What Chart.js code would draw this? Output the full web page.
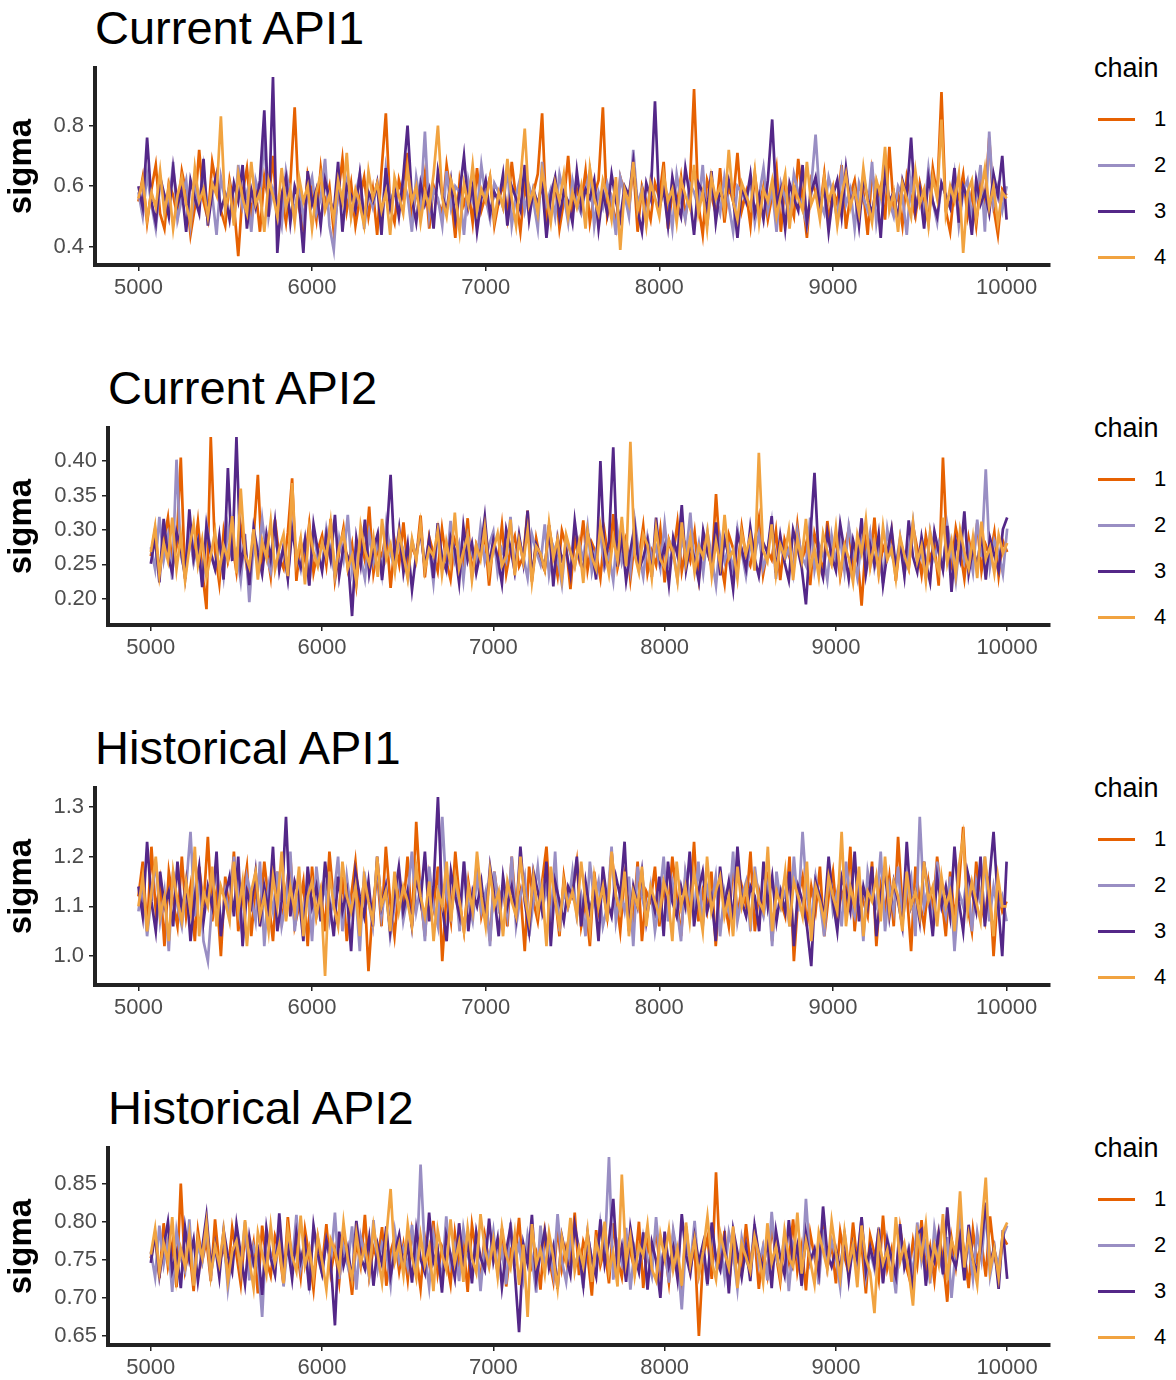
<!DOCTYPE html>
<html>
<head>
<meta charset="utf-8">
<script src="https://cdn.jsdelivr.net/npm/chart.js@4.4.1/dist/chart.umd.min.js"></script>
<style>
  body { margin: 0; background: #fff; font-family: "Liberation Sans", Arial, sans-serif; }
  #page { position: relative; width: 1176px; height: 1380px; overflow: hidden; }
  .panel { position: absolute; left: 0; width: 1176px; height: 360px; }
  .panel canvas { position: absolute; left: 0; top: 0; }
  .title { position: absolute; top: 4px; font-size: 47px; line-height: 47px; color: #000; white-space: nowrap; }
  .legend-title { position: absolute; left: 1094px; top: 55px; font-size: 27px; line-height: 27px; color: #000; }
  .swatch { position: absolute; left: 1098px; width: 37px; height: 3px; }
  .key { position: absolute; left: 1154px; font-size: 22px; line-height: 22px; color: #000; }
</style>
</head>
<body>
<div id="page"></div>
<script>
// ---- chains / iterations (draws 5000..10000, every 25th kept) ----
const chainNames = ["1", "2", "3", "4"];
const chainColors = ["#E66101", "#998EC3", "#542788", "#F1A340"];
const firstIter = 5000;
const thin = 25;
const xTickLabels = ["5000", "6000", "7000", "8000", "9000", "10000"];

// ---- Current API1 ----
const curApi1Ticks = ["0.4", "0.6", "0.8"];
const curApi1Chain1 = [
  0.55, 0.63, 0.48, 0.59, 0.67, 0.51, 0.46, 0.61, 0.57, 0.50, 0.65, 0.58, 0.44, 0.53, 0.72, 0.55, 0.49, 0.68, 0.60, 0.52,
  0.47, 0.62, 0.54, 0.37, 0.58, 0.66, 0.51, 0.59, 0.45, 0.63, 0.55, 0.70, 0.50, 0.57, 0.48, 0.61, 0.86, 0.53, 0.46, 0.64,
  0.58, 0.49, 0.66, 0.54, 0.60, 0.45, 0.57, 0.69, 0.52, 0.61, 0.47, 0.56, 0.63, 0.50, 0.59, 0.44, 0.65, 0.84, 0.53, 0.48,
  0.62, 0.56, 0.71, 0.49, 0.58, 0.53, 0.64, 0.46, 0.60, 0.55, 0.51, 0.67, 0.57, 0.43, 0.62, 0.54, 0.59, 0.48, 0.66, 0.52,
  0.57, 0.63, 0.47, 0.55, 0.61, 0.50, 0.68, 0.56, 0.45, 0.60, 0.53, 0.58, 0.64, 0.84, 0.49, 0.57, 0.62, 0.46, 0.55, 0.70,
  0.51, 0.59, 0.54, 0.65, 0.48, 0.57, 0.62, 0.86, 0.50, 0.56, 0.47, 0.63, 0.58, 0.52, 0.67, 0.45, 0.60, 0.55, 0.49, 0.61,
  0.56, 0.68, 0.46, 0.58, 0.53, 0.63, 0.50, 0.59, 0.92, 0.54, 0.44, 0.62, 0.57, 0.51, 0.66, 0.48, 0.60, 0.55, 0.71, 0.52,
  0.58, 0.47, 0.64, 0.53, 0.60, 0.49, 0.57, 0.66, 0.45, 0.61, 0.55, 0.50, 0.69, 0.56, 0.43, 0.62, 0.58, 0.52, 0.64, 0.48,
  0.59, 0.54, 0.67, 0.46, 0.57, 0.62, 0.51, 0.58, 0.44, 0.65, 0.55, 0.60, 0.49, 0.73, 0.53, 0.57, 0.47, 0.63, 0.56, 0.50,
  0.61, 0.54, 0.48, 0.66, 0.57, 0.91, 0.52, 0.45, 0.60, 0.56, 0.64, 0.50, 0.58, 0.47, 0.62, 0.55, 0.76, 0.53, 0.44, 0.59,
  0.57];
const curApi1Chain2 = [
  0.58, 0.50, 0.64, 0.54, 0.46, 0.61, 0.57, 0.52, 0.68, 0.49, 0.56, 0.62, 0.47, 0.59, 0.53, 0.66, 0.51, 0.57, 0.44, 0.63,
  0.55, 0.60, 0.48, 0.67, 0.53, 0.58, 0.45, 0.62, 0.56, 0.76, 0.50, 0.59, 0.54, 0.47, 0.65, 0.57, 0.52, 0.61, 0.49, 0.58,
  0.63, 0.51, 0.56, 0.69, 0.47, 0.39, 0.60, 0.55, 0.62, 0.50, 0.57, 0.64, 0.46, 0.58, 0.53, 0.61, 0.48, 0.66, 0.55, 0.59,
  0.52, 0.62, 0.57, 0.45, 0.63, 0.54, 0.78, 0.50, 0.59, 0.56, 0.47, 0.65, 0.53, 0.60, 0.58, 0.44, 0.62, 0.55, 0.51, 0.67,
  0.56, 0.49, 0.61, 0.58, 0.53, 0.66, 0.47, 0.57, 0.63, 0.52, 0.60, 0.55, 0.46, 0.68, 0.54, 0.59, 0.50, 0.64, 0.57, 0.48,
  0.62, 0.55, 0.51, 0.59, 0.65, 0.47, 0.58, 0.53, 0.61, 0.56, 0.44, 0.63, 0.57, 0.50, 0.72, 0.54, 0.59, 0.48, 0.62, 0.56,
  0.52, 0.60, 0.57, 0.46, 0.64, 0.55, 0.49, 0.61, 0.58, 0.53, 0.67, 0.47, 0.59, 0.56, 0.51, 0.63, 0.54, 0.45, 0.60, 0.58,
  0.55, 0.62, 0.48, 0.57, 0.66, 0.52, 0.59, 0.45, 0.61, 0.56, 0.50, 0.64, 0.58, 0.53, 0.47, 0.60, 0.77, 0.55, 0.51, 0.63,
  0.57, 0.49, 0.65, 0.54, 0.59, 0.46, 0.61, 0.56, 0.52, 0.68, 0.48, 0.58, 0.63, 0.55, 0.50, 0.60, 0.57, 0.44, 0.62, 0.53,
  0.59, 0.51, 0.66, 0.55, 0.48, 0.61, 0.57, 0.53, 0.64, 0.47, 0.58, 0.62, 0.50, 0.56, 0.67, 0.45, 0.78, 0.54, 0.60, 0.52,
  0.60];
const curApi1Chain3 = [
  0.60, 0.53, 0.76, 0.55, 0.48, 0.63, 0.57, 0.50, 0.66, 0.54, 0.59, 0.45, 0.62, 0.56, 0.51, 0.69, 0.47, 0.58, 0.64, 0.52,
  0.57, 0.49, 0.61, 0.55, 0.67, 0.46, 0.59, 0.53, 0.62, 0.85, 0.50, 0.96, 0.38, 0.57, 0.63, 0.48, 0.60, 0.55, 0.38, 0.65,
  0.54, 0.59, 0.47, 0.62, 0.56, 0.51, 0.68, 0.45, 0.60, 0.57, 0.52, 0.64, 0.49, 0.58, 0.55, 0.61, 0.44, 0.66, 0.53, 0.59,
  0.50, 0.63, 0.80, 0.56, 0.48, 0.61, 0.54, 0.59, 0.46, 0.65, 0.57, 0.52, 0.62, 0.49, 0.58, 0.70, 0.53, 0.60, 0.45, 0.56,
  0.62, 0.51, 0.58, 0.55, 0.64, 0.47, 0.60, 0.56, 0.52, 0.67, 0.49, 0.59, 0.54, 0.61, 0.43, 0.57, 0.63, 0.50, 0.58, 0.55,
  0.48, 0.65, 0.53, 0.59, 0.56, 0.62, 0.46, 0.58, 0.51, 0.64, 0.55, 0.49, 0.60, 0.57, 0.68, 0.52, 0.45, 0.61, 0.56, 0.88,
  0.53, 0.59, 0.47, 0.63, 0.55, 0.50, 0.66, 0.57, 0.44, 0.61, 0.58, 0.52, 0.65, 0.48, 0.59, 0.54, 0.62, 0.56, 0.43, 0.60,
  0.55, 0.64, 0.51, 0.57, 0.49, 0.62, 0.82, 0.54, 0.59, 0.46, 0.61, 0.56, 0.52, 0.67, 0.48, 0.58, 0.63, 0.53, 0.60, 0.45,
  0.57, 0.62, 0.50, 0.66, 0.54, 0.59, 0.47, 0.63, 0.56, 0.51, 0.60, 0.43, 0.65, 0.55, 0.58, 0.49, 0.62, 0.57, 0.76, 0.52,
  0.59, 0.46, 0.63, 0.55, 0.50, 0.61, 0.57, 0.53, 0.66, 0.48, 0.60, 0.56, 0.44, 0.62, 0.54, 0.58, 0.51, 0.64, 0.57, 0.70,
  0.49];
const curApi1Chain4 = [
  0.56, 0.62, 0.49, 0.58, 0.53, 0.65, 0.51, 0.60, 0.46, 0.57, 0.63, 0.54, 0.48, 0.66, 0.55, 0.59, 0.50, 0.61, 0.57, 0.83,
  0.52, 0.60, 0.47, 0.64, 0.56, 0.51, 0.68, 0.54, 0.58, 0.45, 0.62, 0.57, 0.50, 0.66, 0.53, 0.59, 0.48, 0.63, 0.55, 0.60,
  0.46, 0.58, 0.64, 0.52, 0.57, 0.49, 0.62, 0.55, 0.71, 0.50, 0.59, 0.54, 0.47, 0.65, 0.56, 0.61, 0.52, 0.58, 0.44, 0.63,
  0.57, 0.51, 0.66, 0.55, 0.60, 0.48, 0.58, 0.53, 0.64, 0.80, 0.56, 0.50, 0.62, 0.57, 0.45, 0.61, 0.54, 0.67, 0.52, 0.59,
  0.55, 0.63, 0.49, 0.58, 0.53, 0.69, 0.56, 0.47, 0.62, 0.79, 0.54, 0.59, 0.51, 0.65, 0.57, 0.48, 0.61, 0.55, 0.64, 0.50,
  0.58, 0.53, 0.60, 0.46, 0.66, 0.56, 0.51, 0.62, 0.57, 0.49, 0.63, 0.39, 0.59, 0.54, 0.68, 0.52, 0.58, 0.47, 0.61, 0.56,
  0.50, 0.64, 0.55, 0.59, 0.48, 0.62, 0.57, 0.53, 0.67, 0.51, 0.58, 0.46, 0.63, 0.56, 0.60, 0.52, 0.72, 0.55, 0.49, 0.61,
  0.57, 0.53, 0.65, 0.48, 0.59, 0.55, 0.62, 0.50, 0.57, 0.64, 0.46, 0.60, 0.56, 0.52, 0.68, 0.54, 0.58, 0.49, 0.63, 0.55,
  0.60, 0.47, 0.57, 0.64, 0.53, 0.59, 0.51, 0.66, 0.55, 0.48, 0.62, 0.57, 0.73, 0.52, 0.58, 0.45, 0.61, 0.56, 0.50, 0.65,
  0.54, 0.59, 0.47, 0.63, 0.56, 0.82, 0.51, 0.60, 0.55, 0.64, 0.38, 0.58, 0.62, 0.49, 0.57, 0.66, 0.53, 0.60, 0.48, 0.58,
  0.56];

// ---- Current API2 ----
const curApi2Ticks = ["0.20", "0.25", "0.30", "0.35", "0.40"];
const curApi2Chain1 = [
  0.262, 0.301, 0.236, 0.284, 0.318, 0.247, 0.275, 0.405, 0.229, 0.293, 0.258, 0.312, 0.241, 0.185, 0.435, 0.268, 0.222, 0.297, 0.254, 0.281,
  0.239, 0.306, 0.265, 0.218, 0.289, 0.380, 0.251, 0.274, 0.232, 0.315, 0.260, 0.244, 0.296, 0.375, 0.226, 0.283, 0.257, 0.309, 0.238, 0.271,
  0.292, 0.249, 0.316, 0.227, 0.268, 0.303, 0.245, 0.279, 0.221, 0.287, 0.256, 0.334, 0.237, 0.274, 0.262, 0.298, 0.216, 0.283, 0.250, 0.311,
  0.243, 0.277, 0.259, 0.321, 0.231, 0.290, 0.266, 0.240, 0.302, 0.255, 0.228, 0.286, 0.270, 0.248, 0.317, 0.234, 0.279, 0.261, 0.295, 0.219,
  0.284, 0.253, 0.307, 0.236, 0.272, 0.291, 0.247, 0.262, 0.328, 0.225, 0.288, 0.256, 0.241, 0.305, 0.268, 0.233, 0.299, 0.276, 0.214, 0.287,
  0.258, 0.314, 0.242, 0.281, 0.266, 0.230, 0.296, 0.252, 0.323, 0.245, 0.274, 0.291, 0.228, 0.283, 0.260, 0.306, 0.237, 0.269, 0.249, 0.300,
  0.224, 0.285, 0.263, 0.311, 0.240, 0.277, 0.255, 0.297, 0.231, 0.289, 0.268, 0.246, 0.352, 0.258, 0.222, 0.293, 0.273, 0.239, 0.304, 0.261,
  0.248, 0.282, 0.317, 0.235, 0.270, 0.257, 0.299, 0.227, 0.286, 0.264, 0.243, 0.308, 0.253, 0.279, 0.220, 0.294, 0.267, 0.238, 0.313, 0.256,
  0.289, 0.232, 0.271, 0.301, 0.246, 0.265, 0.190, 0.283, 0.251, 0.318, 0.237, 0.276, 0.259, 0.298, 0.226, 0.285, 0.262, 0.244, 0.306, 0.273,
  0.235, 0.292, 0.257, 0.280, 0.219, 0.405, 0.266, 0.247, 0.303, 0.271, 0.229, 0.288, 0.254, 0.310, 0.240, 0.278, 0.261, 0.297, 0.233, 0.284,
  0.268];
const curApi2Chain2 = [
  0.275, 0.243, 0.319, 0.256, 0.291, 0.228, 0.402, 0.264, 0.237, 0.298, 0.252, 0.283, 0.224, 0.309, 0.268, 0.245, 0.287, 0.233, 0.304, 0.259,
  0.271, 0.226, 0.294, 0.195, 0.281, 0.248, 0.316, 0.262, 0.239, 0.290, 0.255, 0.273, 0.231, 0.307, 0.266, 0.242, 0.286, 0.220, 0.299, 0.258,
  0.247, 0.302, 0.269, 0.234, 0.288, 0.257, 0.322, 0.240, 0.277, 0.261, 0.229, 0.295, 0.253, 0.284, 0.236, 0.310, 0.265, 0.244, 0.291, 0.270,
  0.232, 0.285, 0.260, 0.301, 0.249, 0.274, 0.223, 0.296, 0.263, 0.241, 0.313, 0.256, 0.280, 0.227, 0.292, 0.267, 0.246, 0.304, 0.254, 0.278,
  0.298, 0.238, 0.272, 0.255, 0.319, 0.243, 0.287, 0.262, 0.230, 0.294, 0.269, 0.250, 0.308, 0.235, 0.276, 0.259, 0.221, 0.289, 0.265, 0.247,
  0.283, 0.257, 0.305, 0.239, 0.271, 0.293, 0.245, 0.264, 0.226, 0.300, 0.253, 0.279, 0.240, 0.314, 0.266, 0.232, 0.290, 0.258, 0.275, 0.244,
  0.309, 0.251, 0.270, 0.228, 0.287, 0.263, 0.325, 0.246, 0.281, 0.237, 0.297, 0.260, 0.219, 0.288, 0.254, 0.276, 0.241, 0.302, 0.268, 0.233,
  0.278, 0.261, 0.294, 0.244, 0.267, 0.311, 0.229, 0.285, 0.256, 0.272, 0.236, 0.299, 0.262, 0.248, 0.318, 0.242, 0.280, 0.264, 0.227, 0.292,
  0.255, 0.287, 0.240, 0.306, 0.269, 0.231, 0.283, 0.258, 0.296, 0.245, 0.275, 0.223, 0.301, 0.263, 0.250, 0.289, 0.237, 0.273, 0.312, 0.249,
  0.266, 0.232, 0.297, 0.259, 0.281, 0.243, 0.308, 0.270, 0.226, 0.290, 0.254, 0.277, 0.239, 0.315, 0.261, 0.388, 0.247, 0.285, 0.268, 0.236,
  0.302];
const curApi2Chain3 = [
  0.251, 0.289, 0.224, 0.316, 0.262, 0.238, 0.297, 0.273, 0.232, 0.330, 0.258, 0.284, 0.217, 0.305, 0.266, 0.243, 0.291, 0.228, 0.390, 0.255,
  0.435, 0.248, 0.282, 0.220, 0.303, 0.267, 0.236, 0.294, 0.258, 0.312, 0.241, 0.277, 0.229, 0.300, 0.263, 0.246, 0.285, 0.219, 0.308, 0.270,
  0.240, 0.293, 0.257, 0.322, 0.233, 0.276, 0.261, 0.175, 0.288, 0.249, 0.315, 0.236, 0.272, 0.295, 0.227, 0.284, 0.380, 0.253, 0.302, 0.238,
  0.279, 0.213, 0.266, 0.298, 0.245, 0.287, 0.230, 0.310, 0.259, 0.242, 0.290, 0.271, 0.223, 0.305, 0.256, 0.281, 0.237, 0.268, 0.319, 0.247,
  0.286, 0.260, 0.222, 0.301, 0.274, 0.239, 0.293, 0.252, 0.328, 0.231, 0.279, 0.264, 0.244, 0.307, 0.218, 0.288, 0.257, 0.270, 0.235, 0.313,
  0.262, 0.240, 0.296, 0.273, 0.228, 0.400, 0.254, 0.283, 0.420, 0.247, 0.291, 0.226, 0.270, 0.306, 0.243, 0.260, 0.285, 0.232, 0.318, 0.253,
  0.276, 0.221, 0.289, 0.263, 0.336, 0.242, 0.280, 0.257, 0.225, 0.299, 0.268, 0.248, 0.311, 0.234, 0.287, 0.261, 0.214, 0.295, 0.272, 0.244,
  0.304, 0.259, 0.233, 0.282, 0.267, 0.320, 0.238, 0.292, 0.253, 0.227, 0.300, 0.275, 0.246, 0.192, 0.288, 0.383, 0.256, 0.231, 0.297, 0.263,
  0.241, 0.309, 0.270, 0.229, 0.285, 0.258, 0.317, 0.236, 0.278, 0.250, 0.294, 0.220, 0.266, 0.302, 0.245, 0.281, 0.233, 0.314, 0.261, 0.239,
  0.290, 0.253, 0.224, 0.298, 0.268, 0.242, 0.306, 0.210, 0.284, 0.257, 0.327, 0.236, 0.274, 0.249, 0.295, 0.228, 0.288, 0.263, 0.241, 0.301,
  0.318];
const curApi2Chain4 = [
  0.268, 0.305, 0.234, 0.281, 0.255, 0.318, 0.243, 0.292, 0.226, 0.274, 0.309, 0.249, 0.286, 0.231, 0.263, 0.298, 0.240, 0.277, 0.257, 0.320,
  0.237, 0.360, 0.265, 0.246, 0.301, 0.228, 0.284, 0.259, 0.313, 0.242, 0.272, 0.294, 0.233, 0.368, 0.254, 0.288, 0.221, 0.303, 0.267, 0.247,
  0.282, 0.260, 0.311, 0.236, 0.275, 0.297, 0.244, 0.263, 0.225, 0.306, 0.270, 0.251, 0.289, 0.232, 0.316, 0.258, 0.279, 0.239, 0.296, 0.264,
  0.229, 0.287, 0.256, 0.308, 0.241, 0.273, 0.262, 0.299, 0.235, 0.283, 0.250, 0.325, 0.244, 0.269, 0.292, 0.227, 0.278, 0.257, 0.304, 0.238,
  0.271, 0.295, 0.248, 0.262, 0.315, 0.234, 0.285, 0.253, 0.300, 0.224, 0.276, 0.266, 0.242, 0.310, 0.259, 0.287, 0.231, 0.293, 0.269, 0.246,
  0.281, 0.223, 0.298, 0.260, 0.243, 0.307, 0.272, 0.236, 0.289, 0.255, 0.319, 0.247, 0.428, 0.264, 0.238, 0.294, 0.278, 0.230, 0.302, 0.257,
  0.245, 0.285, 0.267, 0.226, 0.311, 0.252, 0.290, 0.238, 0.276, 0.261, 0.298, 0.233, 0.283, 0.249, 0.322, 0.258, 0.271, 0.229, 0.296, 0.265,
  0.291, 0.241, 0.412, 0.270, 0.254, 0.308, 0.235, 0.279, 0.262, 0.300, 0.227, 0.287, 0.256, 0.316, 0.244, 0.273, 0.232, 0.295, 0.268, 0.250,
  0.303, 0.236, 0.278, 0.259, 0.224, 0.293, 0.266, 0.315, 0.246, 0.283, 0.237, 0.305, 0.257, 0.272, 0.229, 0.290, 0.263, 0.243, 0.310, 0.254,
  0.277, 0.226, 0.296, 0.261, 0.240, 0.318, 0.252, 0.284, 0.235, 0.300, 0.268, 0.244, 0.289, 0.230, 0.312, 0.258, 0.275, 0.237, 0.293, 0.266,
  0.281];

// ---- Historical API1 ----
const histApi1Ticks = ["1.0", "1.1", "1.2", "1.3"];
const histApi1Chain1 = [
  1.12, 1.19, 1.05, 1.22, 1.09, 1.15, 1.02, 1.17, 1.11, 1.06, 1.20, 1.08, 1.14, 1.03, 1.18, 1.10, 1.24, 1.07, 1.13, 1.00,
  1.16, 1.09, 1.21, 1.05, 1.12, 1.18, 1.04, 1.14, 1.08, 1.19, 1.11, 1.03, 1.17, 1.07, 1.13, 1.20, 1.06, 1.10, 1.15, 1.02,
  1.18, 1.08, 1.13, 1.05, 1.21, 1.11, 1.07, 1.16, 1.03, 1.12, 1.19, 1.09, 1.15, 0.97, 1.10, 1.17, 1.06, 1.22, 1.11, 1.04,
  1.14, 1.09, 1.20, 1.06, 1.27, 1.12, 1.04, 1.16, 1.10, 1.18, 0.99, 1.13, 1.07, 1.21, 1.11, 1.05, 1.15, 1.09, 1.19, 1.08,
  1.12, 1.03, 1.17, 1.10, 1.14, 1.06, 1.20, 1.09, 1.13, 1.01, 1.18, 1.11, 1.07, 1.15, 1.22, 1.08, 1.12, 1.04, 1.16, 1.10,
  1.13, 1.19, 1.06, 1.11, 1.02, 1.17, 1.09, 1.14, 1.08, 1.21, 1.12, 1.05, 1.16, 1.10, 1.07, 1.19, 1.03, 1.13, 1.11, 1.18,
  1.06, 1.14, 1.09, 1.20, 1.12, 1.04, 1.16, 1.10, 1.23, 1.07, 1.13, 1.09, 1.17, 1.02, 1.15, 1.11, 1.06, 1.19, 1.08, 1.14,
  1.10, 1.21, 1.05, 1.13, 1.09, 1.17, 1.03, 1.15, 1.11, 1.08, 1.20, 0.99, 1.12, 1.16, 1.06, 1.14, 1.09, 1.18, 1.04, 1.12,
  1.17, 1.07, 1.13, 1.10, 1.22, 1.05, 1.15, 1.11, 1.08, 1.19, 1.02, 1.14, 1.09, 1.16, 1.06, 1.24, 1.10, 1.13, 1.01, 1.18,
  1.11, 1.06, 1.15, 1.09, 1.20, 1.12, 1.04, 1.17, 1.08, 1.14, 1.26, 1.10, 1.05, 1.19, 1.11, 1.07, 1.16, 1.00, 1.13, 1.09,
  1.11];
const histApi1Chain2 = [
  1.09, 1.15, 1.04, 1.12, 1.19, 1.07, 1.13, 1.01, 1.17, 1.10, 1.06, 1.14, 1.25, 1.08, 1.16, 1.03, 0.99, 1.11, 1.18, 1.05,
  1.13, 1.08, 1.20, 1.10, 1.04, 1.16, 1.12, 1.07, 1.19, 1.02, 1.14, 1.09, 1.17, 1.06, 1.11, 1.21, 1.05, 1.13, 1.08, 1.15,
  1.03, 1.18, 1.10, 1.14, 1.07, 1.12, 1.20, 1.05, 1.16, 1.09, 1.13, 1.01, 1.17, 1.11, 1.06, 1.19, 1.08, 1.14, 1.04, 1.10,
  1.16, 1.07, 1.12, 1.21, 1.09, 1.14, 1.03, 1.18, 1.10, 1.06, 1.28, 1.12, 1.08, 1.15, 1.05, 1.19, 1.11, 1.07, 1.16, 1.09,
  1.13, 1.02, 1.17, 1.10, 1.14, 1.08, 1.20, 1.06, 1.12, 1.16, 1.04, 1.11, 1.18, 1.09, 1.14, 1.07, 1.21, 1.05, 1.13, 1.10,
  1.17, 1.08, 1.12, 1.04, 1.19, 1.11, 1.15, 1.06, 1.10, 1.22, 1.07, 1.13, 1.09, 1.16, 1.02, 1.18, 1.12, 1.08, 1.14, 1.05,
  1.11, 1.20, 1.07, 1.15, 1.10, 1.03, 1.17, 1.12, 1.08, 1.19, 1.06, 1.14, 1.10, 1.16, 1.04, 1.13, 1.09, 1.21, 1.07, 1.12,
  1.15, 1.05, 1.18, 1.11, 1.08, 1.14, 1.02, 1.17, 1.10, 1.13, 1.06, 1.20, 1.09, 1.25, 1.12, 1.07, 1.16, 1.11, 1.04, 1.18,
  1.09, 1.13, 1.06, 1.19, 1.11, 1.08, 1.15, 1.03, 1.17, 1.12, 1.10, 1.21, 1.05, 1.14, 1.09, 1.18, 1.07, 1.13, 1.16, 1.04,
  1.28, 1.10, 1.14, 1.06, 1.19, 1.12, 1.08, 1.16, 1.01, 1.13, 1.10, 1.17, 1.05, 1.15, 1.11, 1.20, 1.07, 1.14, 1.09, 1.12,
  1.07];
const histApi1Chain3 = [
  1.14, 1.08, 1.23, 1.11, 1.05, 1.17, 1.10, 1.13, 1.06, 1.19, 1.09, 1.15, 1.03, 1.12, 1.18, 1.07, 1.14, 1.10, 1.21, 1.04,
  1.12, 1.16, 1.08, 1.20, 1.02, 1.13, 1.10, 1.17, 1.06, 1.14, 1.09, 1.22, 1.05, 1.11, 1.28, 1.08, 1.15, 1.12, 1.03, 1.18,
  1.10, 1.14, 1.07, 1.19, 1.11, 1.04, 1.16, 1.09, 1.13, 1.01, 1.17, 1.12, 1.08, 1.15, 1.06, 1.20, 1.10, 1.14, 1.05, 1.12,
  1.18, 1.09, 1.13, 1.06, 1.16, 1.11, 1.21, 1.07, 1.14, 1.32, 1.10, 1.03, 1.17, 1.12, 1.08, 1.19, 1.05, 1.13, 1.10, 1.15,
  1.07, 1.18, 1.12, 1.04, 1.16, 1.10, 1.14, 1.08, 1.22, 1.11, 1.05, 1.17, 1.13, 1.09, 1.19, 1.02, 1.15, 1.11, 1.07, 1.14,
  1.12, 1.20, 1.06, 1.15, 1.09, 1.13, 1.03, 1.18, 1.11, 1.08, 1.16, 1.12, 1.23, 1.05, 1.14, 1.10, 1.17, 1.07, 1.13, 1.09,
  1.16, 1.04, 1.19, 1.11, 1.08, 1.14, 1.10, 1.21, 1.06, 1.13, 1.17, 1.09, 1.12, 1.03, 1.18, 1.10, 1.15, 1.07, 1.22, 1.11,
  1.08, 1.14, 1.12, 1.05, 1.19, 1.10, 1.16, 1.07, 1.13, 1.09, 1.17, 1.02, 1.14, 1.11, 1.06, 0.98, 1.15, 1.12, 1.08, 1.20,
  1.11, 1.05, 1.16, 1.13, 1.09, 1.21, 1.07, 1.14, 1.10, 1.18, 1.04, 1.12, 1.17, 1.08, 1.15, 1.11, 1.06, 1.23, 1.10, 1.13,
  1.07, 1.19, 1.12, 1.04, 1.16, 1.10, 1.14, 1.08, 1.22, 1.11, 1.05, 1.17, 1.13, 1.09, 1.20, 1.06, 1.15, 1.25, 1.11, 1.00,
  1.19];
const histApi1Chain4 = [
  1.10, 1.16, 1.05, 1.13, 1.20, 1.08, 1.12, 1.03, 1.17, 1.11, 1.07, 1.15, 1.09, 1.22, 1.04, 1.13, 1.10, 1.18, 1.06, 1.14,
  1.11, 1.07, 1.19, 1.09, 1.15, 1.02, 1.13, 1.17, 1.08, 1.12, 1.05, 1.16, 1.10, 1.21, 1.07, 1.14, 1.09, 1.18, 1.04, 1.12,
  1.15, 1.08, 1.13, 0.96, 1.17, 1.10, 1.06, 1.19, 1.12, 1.09, 1.14, 1.04, 1.16, 1.11, 1.07, 1.20, 1.10, 1.13, 1.05, 1.17,
  1.09, 1.14, 1.11, 1.06, 1.18, 1.12, 1.08, 1.15, 1.03, 1.13, 1.10, 1.19, 1.07, 1.16, 1.11, 1.05, 1.14, 1.09, 1.21, 1.12,
  1.06, 1.17, 1.10, 1.13, 1.04, 1.15, 1.11, 1.08, 1.20, 1.12, 1.07, 1.16, 1.09, 1.14, 1.02, 1.18, 1.11, 1.06, 1.15, 1.10,
  1.13, 1.08, 1.19, 1.11, 1.05, 1.16, 1.10, 1.14, 1.07, 1.21, 1.12, 1.09, 1.17, 1.04, 1.13, 1.10, 1.18, 1.06, 1.14, 1.11,
  1.08, 1.15, 1.12, 1.03, 1.19, 1.10, 1.14, 1.07, 1.17, 1.11, 1.05, 1.20, 1.09, 1.13, 1.16, 1.08, 1.12, 1.04, 1.18, 1.10,
  1.14, 1.07, 1.16, 1.11, 1.09, 1.22, 1.05, 1.13, 1.10, 1.17, 1.06, 1.15, 1.12, 1.08, 1.19, 1.03, 1.14, 1.11, 1.07, 1.16,
  1.12, 1.09, 1.25, 1.06, 1.14, 1.10, 1.18, 1.04, 1.13, 1.11, 1.16, 1.07, 1.20, 1.09, 1.15, 1.12, 1.05, 1.17, 1.10, 1.13,
  1.08, 1.19, 1.11, 1.14, 1.06, 1.16, 1.10, 1.13, 1.05, 1.18, 1.24, 1.09, 1.15, 1.11, 1.07, 1.20, 1.12, 1.04, 1.16, 1.10,
  1.10];

// ---- Historical API2 ----
const histApi2Ticks = ["0.65", "0.70", "0.75", "0.80", "0.85"];
const histApi2Chain1 = [
  0.752, 0.783, 0.726, 0.798, 0.741, 0.771, 0.714, 0.850, 0.737, 0.765, 0.709, 0.788, 0.748, 0.776, 0.722, 0.803, 0.744, 0.768, 0.731, 0.792,
  0.757, 0.718, 0.785, 0.739, 0.772, 0.706, 0.795, 0.750, 0.729, 0.781, 0.762, 0.717, 0.806, 0.745, 0.769, 0.727, 0.790, 0.754, 0.711, 0.778,
  0.740, 0.797, 0.733, 0.764, 0.721, 0.786, 0.752, 0.704, 0.775, 0.743, 0.809, 0.729, 0.766, 0.748, 0.793, 0.716, 0.760, 0.781, 0.735, 0.770,
  0.724, 0.788, 0.755, 0.712, 0.779, 0.746, 0.801, 0.732, 0.767, 0.751, 0.718, 0.785, 0.742, 0.773, 0.708, 0.796, 0.758, 0.725, 0.782, 0.747,
  0.769, 0.734, 0.791, 0.715, 0.762, 0.748, 0.805, 0.728, 0.776, 0.741, 0.759, 0.711, 0.787, 0.753, 0.722, 0.794, 0.738, 0.767, 0.745, 0.812,
  0.730, 0.774, 0.756, 0.703, 0.789, 0.743, 0.766, 0.719, 0.798, 0.750, 0.727, 0.783, 0.761, 0.736, 0.800, 0.713, 0.772, 0.745, 0.790, 0.733,
  0.765, 0.720, 0.784, 0.749, 0.707, 0.794, 0.738, 0.769, 0.650, 0.756, 0.779, 0.725, 0.865, 0.742, 0.788, 0.716, 0.773, 0.751, 0.734, 0.797,
  0.744, 0.781, 0.712, 0.763, 0.730, 0.792, 0.757, 0.721, 0.776, 0.747, 0.803, 0.735, 0.768, 0.710, 0.785, 0.753, 0.727, 0.796, 0.740, 0.771,
  0.719, 0.787, 0.754, 0.732, 0.799, 0.745, 0.770, 0.706, 0.782, 0.758, 0.724, 0.808, 0.739, 0.764, 0.717, 0.791, 0.750, 0.729, 0.775, 0.743,
  0.802, 0.736, 0.767, 0.723, 0.784, 0.752, 0.695, 0.778, 0.741, 0.796, 0.760, 0.713, 0.789, 0.747, 0.773, 0.728, 0.807, 0.755, 0.733, 0.780,
  0.770];
const histApi2Chain2 = [
  0.761, 0.727, 0.795, 0.744, 0.776, 0.708, 0.788, 0.752, 0.735, 0.803, 0.719, 0.770, 0.747, 0.792, 0.729, 0.765, 0.741, 0.783, 0.712, 0.758,
  0.779, 0.736, 0.800, 0.723, 0.768, 0.749, 0.675, 0.786, 0.757, 0.731, 0.797, 0.715, 0.773, 0.745, 0.809, 0.738, 0.764, 0.720, 0.790, 0.753,
  0.732, 0.775, 0.746, 0.812, 0.725, 0.767, 0.742, 0.794, 0.711, 0.781, 0.755, 0.728, 0.802, 0.739, 0.772, 0.760, 0.717, 0.787, 0.748, 0.766,
  0.740, 0.796, 0.730, 0.875, 0.758, 0.714, 0.784, 0.751, 0.727, 0.807, 0.744, 0.769, 0.722, 0.791, 0.756, 0.737, 0.780, 0.709, 0.774, 0.750,
  0.788, 0.734, 0.762, 0.718, 0.799, 0.746, 0.771, 0.726, 0.783, 0.753, 0.707, 0.795, 0.739, 0.766, 0.730, 0.810, 0.749, 0.721, 0.777, 0.743,
  0.760, 0.713, 0.785, 0.748, 0.733, 0.798, 0.757, 0.885, 0.724, 0.770, 0.745, 0.792, 0.711, 0.764, 0.738, 0.781, 0.752, 0.729, 0.806, 0.742,
  0.767, 0.720, 0.789, 0.755, 0.685, 0.776, 0.741, 0.801, 0.731, 0.763, 0.716, 0.794, 0.747, 0.772, 0.728, 0.786, 0.759, 0.712, 0.779, 0.750,
  0.735, 0.797, 0.744, 0.768, 0.723, 0.813, 0.752, 0.737, 0.783, 0.709, 0.771, 0.758, 0.726, 0.830, 0.746, 0.764, 0.718, 0.790, 0.740, 0.775,
  0.754, 0.714, 0.787, 0.732, 0.769, 0.745, 0.805, 0.727, 0.761, 0.738, 0.793, 0.721, 0.778, 0.751, 0.706, 0.782, 0.743, 0.766, 0.730, 0.799,
  0.747, 0.773, 0.719, 0.792, 0.756, 0.734, 0.780, 0.700, 0.764, 0.809, 0.739, 0.771, 0.725, 0.786, 0.750, 0.815, 0.729, 0.762, 0.744, 0.781,
  0.795];
const histApi2Chain3 = [
  0.746, 0.784, 0.729, 0.767, 0.800, 0.736, 0.759, 0.713, 0.792, 0.750, 0.777, 0.722, 0.765, 0.808, 0.741, 0.771, 0.727, 0.789, 0.755, 0.734,
  0.797, 0.757, 0.718, 0.780, 0.745, 0.763, 0.704, 0.791, 0.752, 0.731, 0.811, 0.740, 0.768, 0.725, 0.785, 0.748, 0.773, 0.710, 0.795, 0.758,
  0.732, 0.776, 0.749, 0.664, 0.787, 0.742, 0.766, 0.722, 0.801, 0.754, 0.738, 0.779, 0.716, 0.769, 0.744, 0.794, 0.729, 0.760, 0.783, 0.739,
  0.770, 0.720, 0.790, 0.751, 0.733, 0.812, 0.747, 0.764, 0.707, 0.782, 0.756, 0.726, 0.798, 0.743, 0.774, 0.719, 0.786, 0.753, 0.737, 0.804,
  0.748, 0.778, 0.714, 0.762, 0.793, 0.735, 0.655, 0.771, 0.745, 0.809, 0.724, 0.758, 0.788, 0.740, 0.767, 0.712, 0.781, 0.754, 0.730, 0.796,
  0.763, 0.717, 0.784, 0.750, 0.728, 0.803, 0.744, 0.775, 0.830, 0.739, 0.768, 0.721, 0.792, 0.757, 0.734, 0.786, 0.711, 0.773, 0.749, 0.700,
  0.787, 0.742, 0.766, 0.725, 0.810, 0.756, 0.732, 0.781, 0.747, 0.772, 0.718, 0.799, 0.751, 0.736, 0.779, 0.706, 0.790, 0.760, 0.727, 0.768,
  0.722, 0.795, 0.758, 0.738, 0.776, 0.713, 0.788, 0.753, 0.730, 0.802, 0.745, 0.769, 0.716, 0.785, 0.749, 0.764, 0.733, 0.820, 0.757, 0.741,
  0.764, 0.737, 0.782, 0.724, 0.771, 0.750, 0.806, 0.735, 0.767, 0.743, 0.791, 0.719, 0.775, 0.752, 0.728, 0.797, 0.740, 0.762, 0.708, 0.784,
  0.790, 0.716, 0.763, 0.748, 0.785, 0.731, 0.819, 0.755, 0.741, 0.778, 0.723, 0.796, 0.750, 0.734, 0.772, 0.825, 0.746, 0.767, 0.712, 0.789,
  0.725];
const histApi2Chain4 = [
  0.757, 0.791, 0.734, 0.772, 0.747, 0.806, 0.725, 0.765, 0.741, 0.784, 0.716, 0.778, 0.753, 0.798, 0.729, 0.769, 0.744, 0.788, 0.722, 0.761,
  0.775, 0.738, 0.802, 0.750, 0.713, 0.786, 0.759, 0.731, 0.795, 0.746, 0.770, 0.719, 0.790, 0.755, 0.735, 0.808, 0.742, 0.766, 0.727, 0.781,
  0.749, 0.711, 0.777, 0.762, 0.736, 0.799, 0.751, 0.724, 0.785, 0.745, 0.768, 0.732, 0.794, 0.757, 0.720, 0.780, 0.843, 0.748, 0.771, 0.730,
  0.796, 0.754, 0.726, 0.782, 0.743, 0.767, 0.709, 0.789, 0.758, 0.737, 0.803, 0.746, 0.773, 0.721, 0.792, 0.752, 0.733, 0.810, 0.764, 0.740,
  0.776, 0.728, 0.793, 0.756, 0.739, 0.784, 0.717, 0.770, 0.675, 0.797, 0.744, 0.763, 0.731, 0.786, 0.753, 0.712, 0.779, 0.748, 0.805, 0.735,
  0.766, 0.742, 0.788, 0.721, 0.774, 0.751, 0.800, 0.734, 0.760, 0.715, 0.862, 0.747, 0.781, 0.729, 0.769, 0.756, 0.796, 0.738, 0.723, 0.783,
  0.752, 0.790, 0.737, 0.765, 0.716, 0.799, 0.744, 0.777, 0.730, 0.761, 0.807, 0.748, 0.724, 0.785, 0.759, 0.739, 0.794, 0.713, 0.771, 0.754,
  0.735, 0.781, 0.757, 0.720, 0.798, 0.746, 0.768, 0.728, 0.789, 0.753, 0.741, 0.812, 0.732, 0.775, 0.749, 0.718, 0.786, 0.762, 0.737, 0.801,
  0.760, 0.726, 0.787, 0.743, 0.770, 0.714, 0.795, 0.752, 0.733, 0.680, 0.779, 0.745, 0.763, 0.721, 0.806, 0.748, 0.771, 0.736, 0.690, 0.784,
  0.755, 0.797, 0.731, 0.769, 0.744, 0.810, 0.723, 0.776, 0.758, 0.840, 0.740, 0.783, 0.749, 0.717, 0.792, 0.858, 0.736, 0.765, 0.727, 0.787,
  0.799];

const panels = [
  { title: "Current API1", yTicks: curApi1Ticks, plotLeft: 95,
    chains: [curApi1Chain1, curApi1Chain2, curApi1Chain3, curApi1Chain4] },
  { title: "Current API2", yTicks: curApi2Ticks, plotLeft: 108,
    chains: [curApi2Chain1, curApi2Chain2, curApi2Chain3, curApi2Chain4] },
  { title: "Historical API1", yTicks: histApi1Ticks, plotLeft: 95,
    chains: [histApi1Chain1, histApi1Chain2, histApi1Chain3, histApi1Chain4] },
  { title: "Historical API2", yTicks: histApi2Ticks, plotLeft: 108,
    chains: [histApi2Chain1, histApi2Chain2, histApi2Chain3, histApi2Chain4] }
];

/* ---------- layout ---------- */
const PANEL_STEP = 360;
const PLOT_TOP = 68;      // top of plotting area inside a panel
const PLOT_H = 197;
const PLOT_RIGHT = 1050;
const CANVAS_H = 320;
const LEGEND_ROWS = [51, 97, 143, 189];

const tickFont = { family: "Liberation Sans", size: 22 };
const tickColor = "#4D4D4D";
const axisColor = "#222222";

// ggplot-style 5% expansion of a continuous range
function expand(lo, hi) {
  const pad = (hi - lo) * 0.05;
  return [lo - pad, hi + pad];
}

const page = document.getElementById("page");

panels.forEach((panel, p) => {
  const el = document.createElement("div");
  el.className = "panel";
  el.style.top = (p * PANEL_STEP) + "px";
  page.appendChild(el);

  const title = document.createElement("div");
  title.className = "title";
  title.style.left = panel.plotLeft + "px";
  title.textContent = panel.title;
  el.appendChild(title);

  /* ---------- legend ---------- */
  const lt = document.createElement("div");
  lt.className = "legend-title";
  lt.textContent = "chain";
  el.appendChild(lt);
  chainNames.forEach((name, c) => {
    const cy = PLOT_TOP + LEGEND_ROWS[c];
    const sw = document.createElement("div");
    sw.className = "swatch";
    sw.style.top = (cy - 1.5) + "px";
    sw.style.background = chainColors[c];
    el.appendChild(sw);
    const key = document.createElement("div");
    key.className = "key";
    key.style.top = (cy - 11) + "px";
    key.textContent = name;
    el.appendChild(key);
  });

  /* ---------- chart ---------- */
  const canvas = document.createElement("canvas");
  canvas.width = 1176;
  canvas.height = CANVAS_H;
  el.appendChild(canvas);

  const all = panel.chains.flat();
  const [yMin, yMax] = expand(Math.min(...all), Math.max(...all));
  const lastIter = firstIter + (panel.chains[0].length - 1) * thin;
  const [xMin, xMax] = expand(firstIter, lastIter);

  const datasets = panel.chains.map((vals, c) => ({
    label: chainNames[c],
    data: vals.map((v, i) => ({ x: firstIter + i * thin, y: v })),
    borderColor: chainColors[c],
    borderWidth: 2.7,
    pointRadius: 0,
    tension: 0,
    fill: false,
    order: chainNames.length - c   // chain 4 ends up on top
  }));

  new Chart(canvas.getContext("2d"), {
    type: "line",
    data: { datasets },
    options: {
      responsive: false,
      animation: false,
      events: [],
      layout: { padding: { top: PLOT_TOP, right: 1176 - PLOT_RIGHT, left: 0, bottom: 0 } },
      plugins: { legend: { display: false }, tooltip: { enabled: false } },
      scales: {
        x: {
          type: "linear",
          min: xMin,
          max: xMax,
          afterBuildTicks: s => { s.ticks = xTickLabels.map(t => ({ value: Number(t) })); },
          afterFit: s => { s.height = CANVAS_H - PLOT_TOP - PLOT_H; },
          ticks: { autoSkip: false, maxRotation: 0, color: tickColor, font: tickFont, padding: 4,
                   callback: v => String(v) },
          grid: { display: true, drawOnChartArea: false, drawTicks: true, tickLength: 6,
                  color: axisColor, lineWidth: 1.5 },
          border: { display: true, color: axisColor, width: 4 }
        },
        y: {
          type: "linear",
          min: yMin,
          max: yMax,
          afterBuildTicks: s => { s.ticks = panel.yTicks.map(t => ({ value: parseFloat(t) })); },
          afterFit: s => { s.width = panel.plotLeft; },
          ticks: { autoSkip: false, color: tickColor, font: tickFont, padding: 5,
                   callback: (v, i) => panel.yTicks[i] },
          grid: { display: true, drawOnChartArea: false, drawTicks: true, tickLength: 6,
                  color: axisColor, lineWidth: 1.5 },
          border: { display: true, color: axisColor, width: 4 },
          title: { display: true, text: "sigma", color: "#000",
                   font: { family: "Liberation Sans", size: 33, weight: "bold" },
                   padding: { top: 2, bottom: 0 } }
        }
      }
    }
  });
});
</script>
</body>
</html>
